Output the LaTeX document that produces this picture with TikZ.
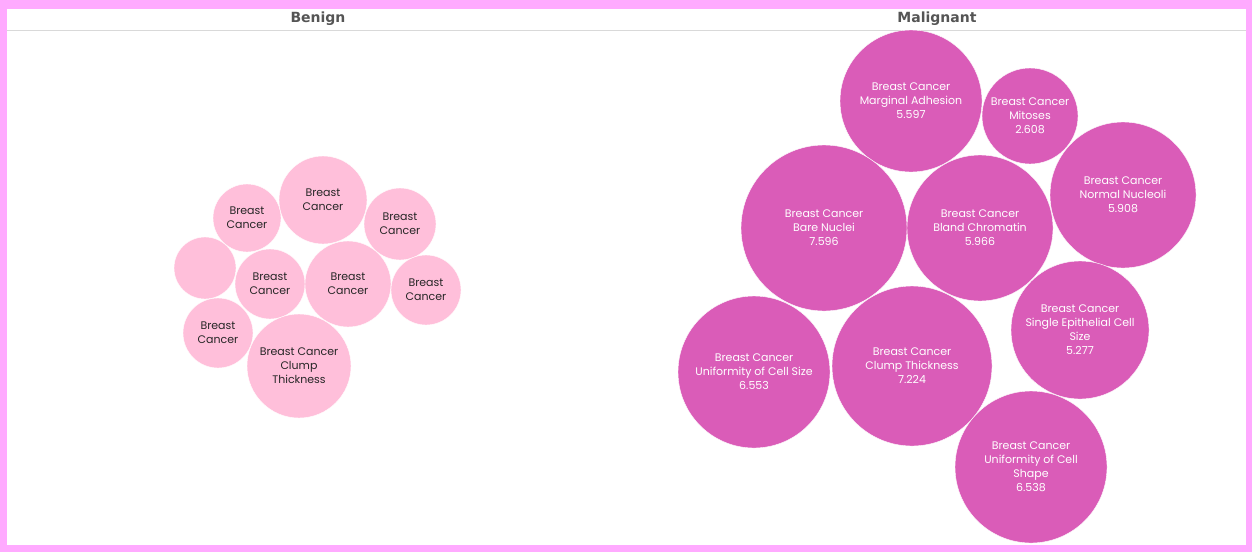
\documentclass[tikz,border=0pt]{standalone}
\usepackage{fontspec}
\setmainfont{Poppins}
\newfontfamily\titlefont{DejaVu Sans}
\definecolor{frame}{HTML}{FFAAFF}
\definecolor{lightpink}{HTML}{FFBFDA}
\definecolor{orchid}{HTML}{DA5CB8}
\definecolor{titlegray}{HTML}{555555}
\definecolor{rulegray}{HTML}{D9D9D9}
\tikzstyle{benign} = [circle, fill=lightpink, draw=white, thin, text=black!85]
\tikzstyle{malig} = [circle, fill=orchid, draw=white, thin, text=white]
\tikzstyle{pane} = [font=\titlefont\bfseries\fontsize{14}{16}\selectfont, text=titlegray]

\begin{document}
\begin{tikzpicture}[
  x=1pt, y=-1pt,
  every node/.style={inner sep=0pt, align=center, font=\fontsize{11}{14}\selectfont},
]
\useasboundingbox (0,0) rectangle (1252,552);
\fill[frame] (0,0) rectangle (1252,552);
\fill[white] (7,9) rectangle (1246,545);
\draw[rulegray] (7,30) -- (1246,30);

\node[pane] (benign) at (318,19) {Benign};
\node[pane] (malignant) at (937,19) {Malignant};

% benign
\node[benign, minimum size=68pt] (b1) at (247,218) {Breast\\Cancer};
\node[benign, minimum size=88pt] (b2) at (323,200) {Breast\\Cancer};
\node[benign, minimum size=72pt] (b3) at (400,224) {Breast\\Cancer};
\node[benign, minimum size=62pt] (b4) at (205,268) {};
\node[benign, minimum size=70pt] (b5) at (270,284) {Breast\\Cancer};
\node[benign, minimum size=86pt] (b6) at (348,284) {Breast\\Cancer};
\node[benign, minimum size=70pt] (b7) at (426,290) {Breast\\Cancer};
\node[benign, minimum size=70pt] (b8) at (218,333) {Breast\\Cancer};
\node[benign, minimum size=104pt] (b9) at (299,366) {Breast Cancer\\Clump\\Thickness};

% malignant
\node[malig, minimum size=142pt] (adhesion) at (911,101) {Breast Cancer\\Marginal Adhesion\\5.597};
\node[malig, minimum size=96pt] (mitoses) at (1030,116) {Breast Cancer\\Mitoses\\2.608};
\node[malig, minimum size=146pt] (nucleoli) at (1123,195) {Breast Cancer\\Normal Nucleoli\\5.908};
\node[malig, minimum size=166pt] (bare) at (824,228) {Breast Cancer\\Bare Nuclei\\7.596};
\node[malig, minimum size=146pt] (chromatin) at (980,228) {Breast Cancer\\Bland Chromatin\\5.966};
\node[malig, minimum size=138pt] (epithelial) at (1080,330) {Breast Cancer\\Single Epithelial Cell\\Size\\5.277};
\node[malig, minimum size=152pt] (cellsize) at (754,372) {Breast Cancer\\Uniformity of Cell Size\\6.553};
\node[malig, minimum size=160pt] (clump) at (912,366) {Breast Cancer\\Clump Thickness\\7.224};
\node[malig, minimum size=152pt] (cellshape) at (1031,467) {Breast Cancer\\Uniformity of Cell\\Shape\\6.538};
\end{tikzpicture}
\end{document}
